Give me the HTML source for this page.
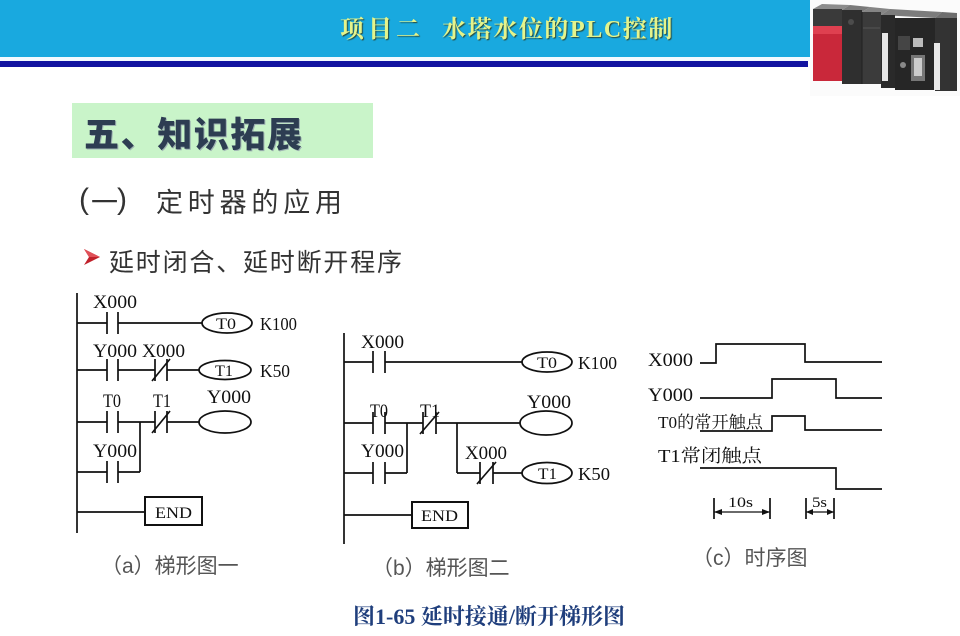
<!DOCTYPE html>
<html><head><meta charset="utf-8">
<style>
html,body{margin:0;padding:0;background:#fff;}
#root{position:relative;width:960px;height:636px;overflow:hidden;background:#fff;}
.abs{position:absolute;white-space:nowrap;}
</style></head>
<body><div id="root">
<!-- header bar -->
<div class="abs" style="left:0;top:0;width:810px;height:57px;background:#19a9df;"></div>
<div class="abs" style="left:0;top:57px;width:810px;height:4px;background:#f4fbff;"></div>
<div class="abs" style="left:0;top:61px;width:808px;height:6px;background:#1214a0;"></div>
<div class="abs" style="left:340px;top:16px;font:bold 24px/28px 'Liberation Serif','Noto Serif CJK SC',serif;color:#e4f48c;text-shadow:1px 1px 1px #2a4a3a;letter-spacing:4px;">项目二</div>
<div class="abs" style="left:442px;top:16px;font:bold 24px/28px 'Liberation Serif','Noto Serif CJK SC',serif;color:#e4f48c;text-shadow:1px 1px 1px #2a4a3a;letter-spacing:1.6px;">水塔水位的PLC控制</div>

<!-- PLC picture -->
<svg class="abs" style="left:810px;top:0;" width="150" height="96" viewBox="810 0 150 96">
  <rect x="810" y="0" width="150" height="96" fill="#fbfbfb"/>
  <polygon points="813,9 822,4 850,5 842,10" fill="#8c8c8c"/>
  <polygon points="842,10 850,5 870,7 862,12" fill="#7a7a7a"/>
  <polygon points="862,12 870,7 890,9 881,15" fill="#858585"/>
  <polygon points="881,15 890,9 942,12 935,18" fill="#7c7c7c"/>
  <polygon points="935,18 942,12 957,13 957,18" fill="#6e6e6e"/>
  <rect x="813" y="9" width="29" height="17" fill="#3a3a3a"/>
  <rect x="813" y="26" width="29" height="55" fill="#c9283a"/>
  <rect x="813" y="26" width="29" height="8" fill="#df4050"/>
  <rect x="842" y="10" width="20" height="74" fill="#2f2f2f"/>
  <circle cx="851" cy="22" r="3" fill="#4c4c4c"/>
  <rect x="862" y="12" width="19" height="72" fill="#3b3b3b"/>
  <line x1="863" y1="28" x2="880" y2="28" stroke="#555" stroke-width="1"/>
  <line x1="862" y1="12" x2="862" y2="84" stroke="#222" stroke-width="1"/>
  <rect x="881" y="15" width="14" height="73" fill="#2a2a2a"/>
  <rect x="882" y="33" width="6" height="48" fill="#e6e6e6"/>
  <rect x="895" y="18" width="40" height="72" fill="#262626"/>
  <rect x="898" y="36" width="12" height="14" fill="#454545"/>
  <rect x="913" y="38" width="10" height="9" fill="#bbb"/>
  <rect x="911" y="55" width="14" height="26" fill="#777"/>
  <rect x="914" y="58" width="8" height="18" fill="#ccc"/>
  <circle cx="903" cy="65" r="3" fill="#888"/>
  <rect x="935" y="18" width="22" height="73" fill="#333"/>
  <rect x="934" y="43" width="6" height="47" fill="#e8e8e8"/>
</svg>

<!-- section title -->
<div class="abs" style="left:72px;top:103px;width:301px;height:55px;background:#c9f4c9;"></div>
<div class="abs" style="left:84px;top:113px;font:900 35px/40px 'Noto Sans CJK SC',sans-serif;color:#2d3d52;letter-spacing:1.6px;text-shadow:1px 1px 0 #9fb3b3;">五、知识拓展</div>

<!-- subtitle -->
<div class="abs" style="left:79px;top:184px;font:400 30px/32px 'Liberation Sans',sans-serif;color:#333;">(</div>
<div class="abs" style="left:91px;top:186px;font:400 27px/30px 'Noto Sans CJK SC',sans-serif;color:#333;">一</div>
<div class="abs" style="left:117px;top:184px;font:400 30px/32px 'Liberation Sans',sans-serif;color:#333;">)</div>
<div class="abs" style="left:156px;top:186px;font:400 27px/30px 'Noto Sans CJK SC',sans-serif;color:#333;letter-spacing:4.8px;">定时器的应用</div>

<!-- bullet -->
<svg class="abs" style="left:82px;top:248px;" width="22" height="18" viewBox="0 0 22 18">
  <polygon points="2,1 18,9 2,17 7,9" fill="#c0202a"/>
  <polygon points="2,1 18,9 7,9" fill="#e05058"/>
</svg>
<div class="abs" style="left:109px;top:247px;font:400 25px/28px 'Noto Sans CJK SC',sans-serif;color:#333;letter-spacing:1.8px;">延时闭合、延时断开程序</div>

<!-- diagrams -->
<svg class="abs" style="left:0;top:0;" width="960" height="636" viewBox="0 0 960 636">
 <g stroke="#111" stroke-width="1.7" fill="none">
  <line x1="77" y1="293" x2="77" y2="533"/>
  <line x1="77" y1="323" x2="107" y2="323"/>
  <line x1="107" y1="312" x2="107" y2="334"/><line x1="118" y1="312" x2="118" y2="334"/>
  <line x1="118" y1="323" x2="202" y2="323"/>
  <ellipse cx="227" cy="323" rx="25" ry="10"/>
  <line x1="77" y1="370" x2="107" y2="370"/>
  <line x1="107" y1="359" x2="107" y2="381"/><line x1="118" y1="359" x2="118" y2="381"/>
  <line x1="118" y1="370" x2="155" y2="370"/>
  <line x1="155" y1="359" x2="155" y2="381"/><line x1="167" y1="359" x2="167" y2="381"/>
  <line x1="152" y1="381" x2="170" y2="359"/>
  <line x1="167" y1="370" x2="199" y2="370"/>
  <ellipse cx="225" cy="370" rx="26" ry="9.5"/>
  <line x1="77" y1="422" x2="107" y2="422"/>
  <line x1="107" y1="411" x2="107" y2="433"/><line x1="118" y1="411" x2="118" y2="433"/>
  <line x1="118" y1="422" x2="155" y2="422"/>
  <line x1="155" y1="411" x2="155" y2="433"/><line x1="167" y1="411" x2="167" y2="433"/>
  <line x1="152" y1="433" x2="170" y2="411"/>
  <line x1="167" y1="422" x2="199" y2="422"/>
  <ellipse cx="225" cy="422" rx="26" ry="11"/>
  <line x1="140" y1="422" x2="140" y2="472"/>
  <line x1="77" y1="472" x2="107" y2="472"/>
  <line x1="107" y1="461" x2="107" y2="483"/><line x1="118" y1="461" x2="118" y2="483"/>
  <line x1="118" y1="472" x2="140" y2="472"/>
  <line x1="77" y1="512" x2="145" y2="512"/>
  <rect x="145" y="497" width="57" height="28" stroke-width="2"/>

  <line x1="344" y1="333" x2="344" y2="544"/>
  <line x1="344" y1="362" x2="373" y2="362"/>
  <line x1="373" y1="351" x2="373" y2="373"/><line x1="385" y1="351" x2="385" y2="373"/>
  <line x1="385" y1="362" x2="522" y2="362"/>
  <ellipse cx="547" cy="362" rx="25" ry="10"/>
  <line x1="344" y1="423" x2="373" y2="423"/>
  <line x1="373" y1="412" x2="373" y2="434"/><line x1="385" y1="412" x2="385" y2="434"/>
  <line x1="385" y1="423" x2="423" y2="423"/>
  <line x1="423" y1="412" x2="423" y2="434"/><line x1="436" y1="412" x2="436" y2="434"/>
  <line x1="420" y1="434" x2="439" y2="412"/>
  <line x1="436" y1="423" x2="520" y2="423"/>
  <ellipse cx="546" cy="423" rx="26" ry="12"/>
  <line x1="407" y1="423" x2="407" y2="473"/>
  <line x1="344" y1="473" x2="373" y2="473"/>
  <line x1="373" y1="462" x2="373" y2="484"/><line x1="385" y1="462" x2="385" y2="484"/>
  <line x1="385" y1="473" x2="407" y2="473"/>
  <line x1="457" y1="423" x2="457" y2="473"/>
  <line x1="457" y1="473" x2="480" y2="473"/>
  <line x1="480" y1="462" x2="480" y2="484"/><line x1="493" y1="462" x2="493" y2="484"/>
  <line x1="477" y1="484" x2="496" y2="462"/>
  <line x1="493" y1="473" x2="522" y2="473"/>
  <ellipse cx="547" cy="473" rx="25" ry="10.5"/>
  <line x1="344" y1="515" x2="412" y2="515"/>
  <rect x="412" y="502" width="56" height="26" stroke-width="2"/>

  <polyline points="700,363 716,363 716,344 805,344 805,362 882,362"/>
  <polyline points="700,398 772,398 772,379 836,379 836,398 882,398"/>
  <polyline points="700,431 772,431 772,416 805,416 805,430 882,430"/>
  <polyline points="700,468 836,468 836,489 882,489"/>
  <line x1="714" y1="498" x2="714" y2="519"/><line x1="770" y1="498" x2="770" y2="519"/>
  <line x1="714" y1="512" x2="770" y2="512" stroke-width="1.2"/>
  <line x1="806" y1="498" x2="806" y2="519"/><line x1="834" y1="498" x2="834" y2="519"/>
  <line x1="806" y1="512" x2="834" y2="512" stroke-width="1.2"/>
 </g>
 <g fill="#111">
  <polygon points="714,512 722,509 722,515"/>
  <polygon points="770,512 762,509 762,515"/>
  <polygon points="806,512 813,509 813,515"/>
  <polygon points="834,512 827,509 827,515"/>
 </g>
 <g font-family="'Liberation Serif','Noto Serif CJK SC',serif" fill="#111" font-size="19">
  <text x="93" y="308" textLength="44" lengthAdjust="spacingAndGlyphs">X000</text>
  <text x="216" y="329" font-size="16" textLength="20" lengthAdjust="spacingAndGlyphs">T0</text>
  <text x="260" y="330" font-size="18" textLength="37" lengthAdjust="spacingAndGlyphs">K100</text>
  <text x="93" y="357" textLength="44" lengthAdjust="spacingAndGlyphs">Y000</text>
  <text x="142" y="357" textLength="43" lengthAdjust="spacingAndGlyphs">X000</text>
  <text x="215" y="376" font-size="16" textLength="18" lengthAdjust="spacingAndGlyphs">T1</text>
  <text x="260" y="377" font-size="18" textLength="30" lengthAdjust="spacingAndGlyphs">K50</text>
  <text x="103" y="407" textLength="18" lengthAdjust="spacingAndGlyphs">T0</text>
  <text x="153" y="407" textLength="18" lengthAdjust="spacingAndGlyphs">T1</text>
  <text x="207" y="403" textLength="44" lengthAdjust="spacingAndGlyphs">Y000</text>
  <text x="93" y="457" textLength="44" lengthAdjust="spacingAndGlyphs">Y000</text>
  <text x="155" y="518" font-size="16" textLength="37" lengthAdjust="spacingAndGlyphs">END</text>
  <text x="361" y="348" textLength="43" lengthAdjust="spacingAndGlyphs">X000</text>
  <text x="537" y="368" font-size="16" textLength="20" lengthAdjust="spacingAndGlyphs">T0</text>
  <text x="578" y="369" font-size="18" textLength="39" lengthAdjust="spacingAndGlyphs">K100</text>
  <text x="370" y="417" textLength="18" lengthAdjust="spacingAndGlyphs">T0</text>
  <text x="420" y="417" textLength="20" lengthAdjust="spacingAndGlyphs">T1</text>
  <text x="527" y="408" textLength="44" lengthAdjust="spacingAndGlyphs">Y000</text>
  <text x="361" y="457" textLength="43" lengthAdjust="spacingAndGlyphs">Y000</text>
  <text x="465" y="459" textLength="42" lengthAdjust="spacingAndGlyphs">X000</text>
  <text x="538" y="479" font-size="16" textLength="19" lengthAdjust="spacingAndGlyphs">T1</text>
  <text x="578" y="480" font-size="18" textLength="32" lengthAdjust="spacingAndGlyphs">K50</text>
  <text x="421" y="521" font-size="16" textLength="37" lengthAdjust="spacingAndGlyphs">END</text>
  <text x="648" y="366" textLength="45" lengthAdjust="spacingAndGlyphs">X000</text>
  <text x="648" y="401" textLength="45" lengthAdjust="spacingAndGlyphs">Y000</text>
  <text x="658" y="428" font-size="17" textLength="105" lengthAdjust="spacingAndGlyphs">T0的常开触点</text>
  <text x="658" y="462" font-size="18" textLength="104" lengthAdjust="spacingAndGlyphs">T1常闭触点</text>
  <text x="728" y="507" font-size="15" textLength="25" lengthAdjust="spacingAndGlyphs">10s</text>
  <text x="812" y="507" font-size="15" textLength="15" lengthAdjust="spacingAndGlyphs">5s</text>
 </g>
</svg>

<!-- captions -->
<div class="abs" style="left:101px;top:555px;font:400 21px/24px 'Liberation Sans','Noto Sans CJK SC',sans-serif;color:#555;">（a）梯形图一</div>
<div class="abs" style="left:372px;top:557px;font:400 21px/24px 'Liberation Sans','Noto Sans CJK SC',sans-serif;color:#555;">（b）梯形图二</div>
<div class="abs" style="left:692px;top:547px;font:400 21px/24px 'Liberation Sans','Noto Sans CJK SC',sans-serif;color:#555;">（c）时序图</div>
<div class="abs" style="left:353px;top:604px;font:bold 22px/26px 'Liberation Serif','Noto Serif CJK SC',serif;color:#1f3e7c;">图1-65 延时接通/断开梯形图</div>
</div></body></html>
